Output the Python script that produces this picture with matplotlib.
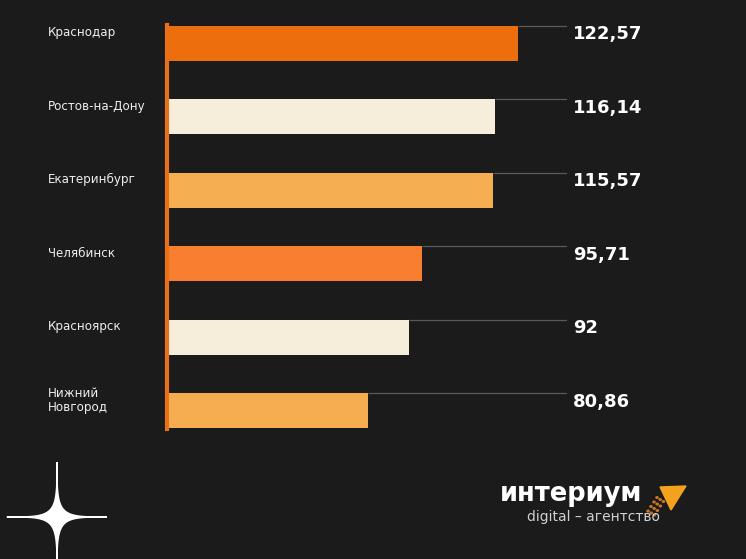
import numpy as np
import matplotlib.pyplot as plt
from matplotlib.patches import Polygon, Circle

cities = ["Краснодар", "Ростов-на-Дону", "Екатеринбург", "Челябинск", "Красноярск", "Нижний\nНовгород"]
values = [122.57, 116.14, 115.57, 95.71, 92, 80.86]
value_labels = ["122,57", "116,14", "115,57", "95,71", "92", "80,86"]
colors = ["#ec6e0c", "#f6eedb", "#f6ae52", "#f77f2f", "#f6eedb", "#f6ad50"]

BG = "#1b1b1b"
W, H = 746, 559

fig = plt.figure(figsize=(W / 100, H / 100), dpi=100, facecolor=BG)

# axes placed in pixel terms of the reference
left, right, top, bottom = 167, 567, 25, 429
ax = fig.add_axes([left / W, 1 - bottom / H, (right - left) / W, (bottom - top) / H])
ax.set_facecolor("none")

y = np.arange(len(values))
bar_h = 0.476
ax.barh(y, values, height=bar_h, color=colors, zorder=2)

xmax = 136.1
ax.set_xlim(24.8, xmax)
ax.set_ylim(5.25, -0.245)

# thin grey guide lines from bar end to the value labels
ax.hlines(y - bar_h / 2, values, xmax, color="#5a5a5a", lw=0.9, zorder=1)

for yi, lab in zip(y, value_labels):
    ax.text(xmax + 1.6, yi - 0.12, lab, color="white", fontsize=13,
            fontweight="bold", va="center", ha="left", clip_on=False)

label_x = (48 - left) / (right - left)
for yi, c in zip(y, cities):
    ax.text(label_x, yi - 0.14, c, transform=ax.get_yaxis_transform(), color="#eeeeee",
            fontsize=8.6, va="center", ha="left", linespacing=1.15)

ax.set_xticks([])
ax.set_yticks([])
for s in ["top", "right", "bottom"]:
    ax.spines[s].set_visible(False)
ax.spines["left"].set_color("#e8701a")
ax.spines["left"].set_linewidth(3)
ax.spines["left"].set_zorder(3)

# decorative four-pointed star (bottom left)
cx, cy = 57, 517
t = np.linspace(0, 2 * np.pi, 800)
p = 5.8
c, s = np.cos(t), np.sin(t)
sx = cx + 50 * np.sign(c) * np.abs(c) ** p
sy = cy + 55 * np.sign(s) * np.abs(s) ** p
fig.patches.append(Polygon(np.column_stack([sx / W, 1 - sy / H]), closed=True,
                           transform=fig.transFigure, color="white"))

# logo
fig.text(500 / W, 1 - 494 / H, "интериум", color="white", fontsize=18.5,
         fontweight="bold", va="center", ha="left")
fig.text(527 / W, 1 - 517 / H, "digital – агентство", color="#d0d0d0", fontsize=10,
         va="center", ha="left")
tri = np.array([[660, 487], [686, 486], [671, 510]], dtype=float)
fig.patches.append(Polygon(np.column_stack([tri[:, 0] / W, 1 - tri[:, 1] / H]), closed=True,
                           transform=fig.transFigure, color="#f4a21e"))
for i in range(4):
    for j in range(3):
        px = 648 + i * 3.0 + j * 3.2
        py = 514 - i * 4.5 + j * 2.0 - 3
        fig.patches.append(Circle((px / W, 1 - py / H), 1.1 / W, transform=fig.transFigure,
                                  color="#c8742a"))

fig.savefig("out.png", dpi=100, facecolor=BG)
